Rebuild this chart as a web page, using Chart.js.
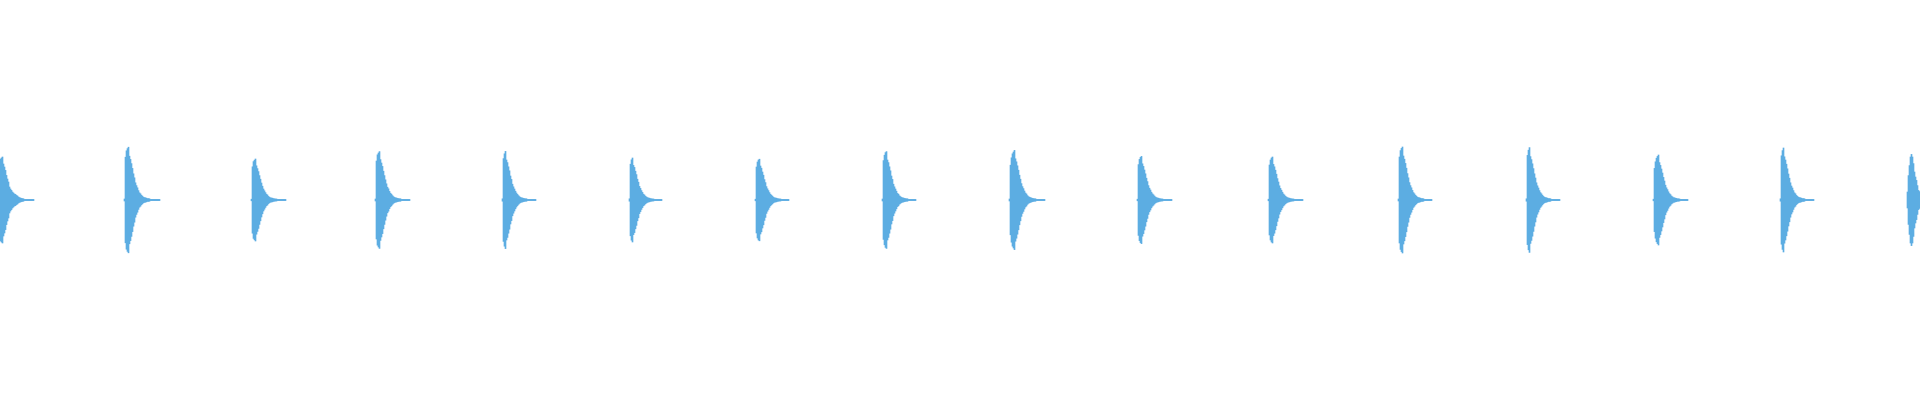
<!DOCTYPE html>
<html>
<head>
<meta charset="utf-8">
<title>Waveform</title>
<script src="https://cdn.jsdelivr.net/npm/chart.js@4"></script>
<style>
  html, body { margin: 0; padding: 0; background: #ffffff; }
  #wrap { width: 1920px; height: 400px; position: relative; }
</style>
</head>
<body>
<div id="wrap"><canvas id="waveChart"></canvas></div>
<script>
// number of sample columns across the view
const sampleCount = 1920;

// sample index where each hit starts
const hitStarts = [0, 124, 251, 375, 502, 629, 755, 882, 1009, 1137, 1268, 1398, 1526, 1653, 1780, 1907];

// peak amplitude per column for each hit (percent of full scale)
const hit01 = [20.5, 21, 21.5, 18, 16.5, 14.8, 12.3, 10.5, 9, 6.5, 5.5, 4.8, 4, 3.5, 3, 2.8, 2.3, 2, 1.5, 1.2, 1, 0.8, 0.7, 0.6, 0.3, 0.3, 0.3, 0.3, 0.3, 0.3, 0.3, 0.3, 0.3, 0.3];
const hit02 = [0.5, 21.4, 24.6, 25.7, 26.4, 21.9, 20.3, 18.2, 15.8, 13.1, 11.1, 8.6, 7.2, 6.1, 4.7, 3.6, 3.1, 2.4, 1.9, 1.4, 1.2, 1.1, 0.9, 0.7, 0.7, 0.6, 0.3, 0.3, 0.3, 0.3, 0.3, 0.3, 0.3, 0.3, 0.3, 0.3];
const hit03 = [0.4, 16.6, 19.2, 19.9, 20.5, 17.1, 15.7, 14.2, 12.2, 10.4, 8.5, 6.9, 5.5, 4.6, 3.7, 2.9, 2.5, 1.8, 1.4, 1.1, 1, 0.9, 0.7, 0.6, 0.5, 0.5, 0.3, 0.3, 0.3, 0.3, 0.3, 0.3, 0.3, 0.3, 0.3];
const hit04 = [0.5, 19.5, 22.6, 23.5, 24.2, 20.2, 18.5, 16.8, 14.4, 12.2, 10.1, 8.1, 6.4, 5.6, 4.3, 3.4, 2.9, 2.2, 1.7, 1.3, 1.1, 1, 0.8, 0.7, 0.6, 0.6, 0.3, 0.3, 0.3, 0.3, 0.3, 0.3, 0.3, 0.3, 0.3];
const hit05 = [0.6, 20.7, 23.1, 24.3, 20, 18.7, 16.6, 14.6, 12, 10.3, 7.9, 6.6, 5.5, 4.4, 3.5, 2.8, 2.2, 1.7, 1.3, 1.1, 1, 0.8, 0.7, 0.6, 0.6, 0.3, 0.3, 0.3, 0.3, 0.3, 0.3, 0.3, 0.3, 0.3];
const hit06 = [0.6, 17.9, 20.1, 21, 17.3, 16.3, 14.4, 12.7, 10.4, 8.9, 6.8, 5.8, 4.7, 3.8, 2.9, 2.5, 1.9, 1.5, 1.2, 1, 0.9, 0.7, 0.6, 0.5, 0.5, 0.3, 0.3, 0.3, 0.3, 0.3, 0.3, 0.3, 0.3];
const hit07 = [0.4, 16.5, 19, 20, 20.4, 17, 15.9, 14, 12.4, 10.2, 8.7, 6.7, 5.6, 4.7, 3.7, 2.9, 2.4, 1.9, 1.4, 1.1, 1, 0.9, 0.7, 0.6, 0.5, 0.5, 0.3, 0.3, 0.3, 0.3, 0.3, 0.3, 0.3, 0.3];
const hit08 = [0.5, 19.7, 22.4, 23.7, 24.2, 20, 18.7, 16.6, 14.6, 12, 10.3, 7.9, 6.6, 5.5, 4.4, 3.3, 2.9, 2.1, 1.7, 1.3, 1.1, 1, 0.8, 0.7, 0.6, 0.6, 0.3, 0.3, 0.3, 0.3, 0.3, 0.3, 0.3, 0.3];
const hit09 = [0.5, 17.4, 21.1, 23.1, 24, 24.8, 20.6, 19.1, 17.1, 14.9, 12.4, 10.4, 8.2, 6.7, 5.7, 4.5, 3.5, 3, 2.2, 1.7, 1.4, 1.2, 1, 0.8, 0.7, 0.6, 0.6, 0.3, 0.3, 0.3, 0.3, 0.3, 0.3, 0.3, 0.3, 0.3];
const hit10 = [0.4, 17.7, 20.3, 21.3, 21.8, 18.1, 16.8, 15, 13.1, 10.9, 9.2, 7.2, 5.9, 5, 3.9, 3.1, 2.6, 2, 1.5, 1.2, 1, 0.9, 0.7, 0.6, 0.5, 0.5, 0.3, 0.3, 0.3, 0.3, 0.3, 0.3, 0.3, 0.3, 0.3];
const hit11 = [0.4, 17.5, 20, 21, 21.5, 17.8, 16.6, 14.9, 12.9, 10.7, 9, 7.1, 5.8, 4.9, 3.9, 3, 2.5, 1.9, 1.5, 1.2, 1, 0.9, 0.7, 0.6, 0.5, 0.5, 0.3, 0.3, 0.3, 0.3, 0.3, 0.3, 0.3, 0.3, 0.3];
const hit12 = [0.5, 21.5, 24.7, 25.8, 26.5, 22, 20.4, 18.3, 15.9, 13.2, 11.1, 8.7, 7.2, 6.1, 4.8, 3.7, 3.1, 2.4, 1.9, 1.4, 1.2, 1.1, 0.9, 0.7, 0.7, 0.6, 0.3, 0.3, 0.3, 0.3, 0.3, 0.3, 0.3, 0.3];
const hit13 = [0.6, 22.3, 24.9, 26.2, 21.7, 20.2, 18.1, 15.7, 13.1, 11, 8.6, 7.1, 6, 4.7, 3.7, 3.1, 2.4, 1.8, 1.4, 1.2, 1.1, 0.9, 0.7, 0.7, 0.6, 0.3, 0.3, 0.3, 0.3, 0.3, 0.3, 0.3, 0.3, 0.3];
const hit14 = [0.4, 15.8, 19.1, 20.9, 21.8, 22.5, 18.7, 17.3, 15.5, 13.5, 11.3, 9.5, 7.4, 6.1, 5.2, 4.1, 3.2, 2.7, 2, 1.6, 1.2, 1.1, 0.9, 0.8, 0.6, 0.6, 0.5, 0.3, 0.3, 0.3, 0.3, 0.3, 0.3, 0.3, 0.3];
const hit15 = [0.6, 22.1, 24.7, 26, 21.6, 20, 17.9, 15.6, 13, 10.9, 8.6, 7, 6, 4.7, 3.6, 3.1, 2.3, 1.8, 1.4, 1.2, 1.1, 0.9, 0.7, 0.7, 0.6, 0.3, 0.3, 0.3, 0.3, 0.3, 0.3, 0.3, 0.3, 0.3];
const hit16 = [4, 12.2, 17.2, 21.5, 22.8, 21.5, 18.2, 14, 11.5, 9.8, 7.2, 4.8, 4.2];

const hits = [hit01, hit02, hit03, hit04, hit05, hit06, hit07, hit08, hit09, hit10, hit11, hit12, hit13, hit14, hit15, hit16];

const waveColor = "#5dade2";

// one floating bar per column, from -amp to +amp
function buildColumns() {
  var labels = [];
  var columns = [];
  for (var i = 0; i < sampleCount; i++) {
    labels.push(i);
    columns.push(null);
  }
  hits.forEach(function (hit, h) {
    var start = hitStarts[h];
    hit.forEach(function (amp, k) {
      var idx = start + k;
      if (idx >= 0 && idx < sampleCount) {
        columns[idx] = [-amp, amp];
      }
    });
  });
  return { labels: labels, columns: columns };
}

function setupWaveChart() {
  var canvas = document.getElementById("waveChart");
  if (!canvas) {
    console.error("Canvas for waveChart not found!");
    return null;
  }
  var ctx = canvas.getContext("2d");
  if (!ctx) {
    console.error("Failed to get 2D context for waveChart!");
    return null;
  }

  var built = buildColumns();

  return new Chart(ctx, {
    type: 'bar',
    data: {
      labels: built.labels,
      datasets: [{
        label: "Amplitude",
        data: built.columns,
        backgroundColor: waveColor,
        borderWidth: 0,
        barPercentage: 1,
        categoryPercentage: 1
      }]
    },
    options: {
      responsive: true,
      maintainAspectRatio: false,
      animation: false,
      layout: { padding: 0 },
      scales: {
        x: { display: false, grid: { display: false } },
        y: { display: false, min: -100, max: 100, grid: { display: false } }
      },
      plugins: {
        legend: { display: false },
        tooltip: { enabled: false }
      }
    }
  });
}

const waveChart = setupWaveChart();
</script>
</body>
</html>
